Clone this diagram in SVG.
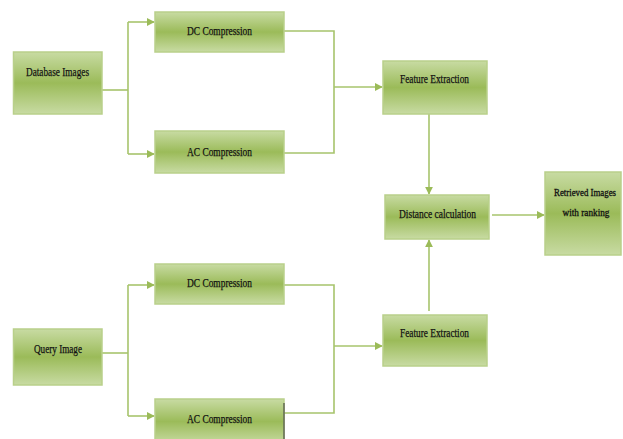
<svg xmlns="http://www.w3.org/2000/svg" width="623" height="439" viewBox="0 0 623 439">
<defs>
<linearGradient id="g" x1="0" y1="0" x2="0" y2="1">
<stop offset="0" stop-color="#c8dba3"/>
<stop offset="0.5" stop-color="#9bbb59"/>
<stop offset="1" stop-color="#c8dba3"/>
</linearGradient>
<marker id="ah" viewBox="0 0 10 10" refX="9" refY="5" markerWidth="8" markerHeight="8" markerUnits="userSpaceOnUse" orient="auto">
<path d="M0,0 L10,5 L0,10 Z" fill="#9bbb59"/>
</marker>
<style>
.box{fill:url(#g);stroke:#b9d08a;stroke-width:1.5}
.t{font-family:"Liberation Serif",serif;font-size:13px;fill:#111;stroke:#111;stroke-width:0.25;text-anchor:middle}
.s{font-size:10px;stroke-width:0.3}
.c{fill:none;stroke:#a7c46c;stroke-width:1.6}
</style>
</defs>
<g id="connectors">
<path class="c" d="M102,90 H128"/>
<path class="c" d="M128,22 V154"/>
<path class="c" d="M128,22 H154" marker-end="url(#ah)"/>
<path class="c" d="M128,154 H154" marker-end="url(#ah)"/>
<path class="c" d="M284,31 H334 V153 H284"/>
<path class="c" d="M334,87 H382" marker-end="url(#ah)"/>
<path class="c" d="M429,114 V194" marker-end="url(#ah)"/>
<path class="c" d="M492,215 H544" marker-end="url(#ah)"/>
<path class="c" d="M429,311 V240" marker-end="url(#ah)"/>
<path class="c" d="M102,353 H128"/>
<path class="c" d="M128,285 V416"/>
<path class="c" d="M128,285 H154" marker-end="url(#ah)"/>
<path class="c" d="M128,416 H154" marker-end="url(#ah)"/>
<path class="c" d="M284,285 H334 V413 H284"/>
<path class="c" d="M334,346 H382" marker-end="url(#ah)"/>
</g>
<g id="database-images"><rect class="box" x="13.5" y="52" width="88.5" height="62"/><text class="t" x="57.5" y="76" textLength="63" lengthAdjust="spacingAndGlyphs">Database Images</text></g>
<g id="dc-compression-1"><rect class="box" x="155" y="12" width="129" height="40"/><text class="t" x="219.5" y="35" textLength="65" lengthAdjust="spacingAndGlyphs">DC Compression</text></g>
<g id="ac-compression-1"><rect class="box" x="155" y="131" width="129" height="42"/><text class="t" x="219.5" y="156" textLength="65" lengthAdjust="spacingAndGlyphs">AC Compression</text></g>
<g id="feature-extraction-1"><rect class="box" x="383" y="61" width="104" height="53"/><text class="t" x="434.5" y="83" textLength="69" lengthAdjust="spacingAndGlyphs">Feature Extraction</text></g>
<g id="distance-calculation"><rect class="box" x="385" y="195" width="104" height="44"/><text class="t" x="437.5" y="218" textLength="77" lengthAdjust="spacingAndGlyphs">Distance calculation</text></g>
<g id="retrieved-images"><rect class="box" x="545" y="172" width="76" height="83"/><text class="t s" x="585" y="196" textLength="62" lengthAdjust="spacingAndGlyphs">Retrieved Images</text><text class="t s" x="586" y="216" textLength="47" lengthAdjust="spacingAndGlyphs">with ranking</text></g>
<g id="query-image"><rect class="box" x="13.5" y="329" width="88.5" height="56"/><text class="t" x="58" y="353" textLength="48" lengthAdjust="spacingAndGlyphs">Query Image</text></g>
<g id="dc-compression-2"><rect class="box" x="155" y="264" width="129" height="40"/><text class="t" x="219.5" y="287" textLength="65" lengthAdjust="spacingAndGlyphs">DC Compression</text></g>
<g id="ac-compression-2"><rect class="box" x="155" y="399" width="129" height="45"/><line x1="284" y1="403" x2="284" y2="439" stroke="#333" stroke-width="1"/><text class="t" x="219.5" y="423" textLength="65" lengthAdjust="spacingAndGlyphs">AC Compression</text></g>
<g id="feature-extraction-2"><rect class="box" x="383" y="315" width="104" height="51"/><text class="t" x="434.5" y="337" textLength="69" lengthAdjust="spacingAndGlyphs">Feature Extraction</text></g>
</svg>
